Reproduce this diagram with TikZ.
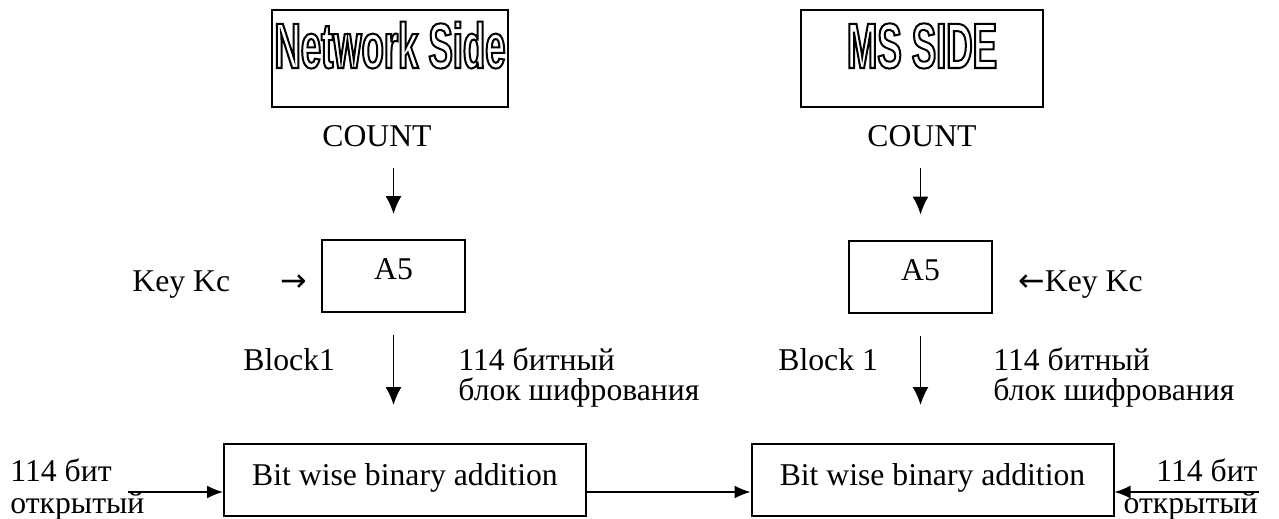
\documentclass[tikz,border=0pt]{standalone}
\usepackage{fontspec}
\setmainfont{Liberation Serif}
\newfontfamily\sideFont[FakeStretch=0.57]{Liberation Sans}
\newfontfamily\symFont{DejaVu Sans}
\usetikzlibrary{arrows.meta, calc, positioning}
\tikzset{
    sideBox/.style={rectangle, draw, line width=1pt, minimum height=48.5pt, inner sep=0pt},
    sideText/.style={anchor=base, inner sep=0pt, font=\sideFont\bfseries\fontsize{32}{36}\selectfont},
    algBox/.style={rectangle, draw, line width=1pt, minimum width=71.5pt, minimum height=36pt, inner sep=0pt, text depth=6.5pt},
    addBox/.style={rectangle, draw, line width=1pt, minimum width=181pt, minimum height=36pt, inner sep=0pt, text depth=5.8pt},
    txt/.style={inner sep=0pt},
    flowEdge/.style={-{Latex[length=8pt, width=6.5pt]}, line width=0.75pt},
    downEdge/.style={flowEdge, -{Latex[length=9pt, width=8pt]}},
}
% hollow (outlined) letters for the two titles
\newcommand{\outl}[1]{\special{pdf:literal direct 1 Tr 1 w}#1\special{pdf:literal direct 0 Tr}}

\begin{document}
\begin{tikzpicture}[x=0.5pt, y=-0.5pt, font=\fontsize{15.85}{15}\selectfont]
    \useasboundingbox (0,0) rectangle (1279,519);

    % network side
    \node[sideBox, minimum width=118pt] (netBox) at (390,58.5) {};
    \node[sideText] (netTitle) at (390,68) {\outl{Network Side}};
    \node[txt, anchor=base] (countL) at (377,147) {COUNT};
    \node[algBox] (a5L) at (393.5,276) {A5};
    \node[txt, anchor=base west] (keyL) at (132,291) {Key Kc\hspace{25pt}{\symFont →}};
    \node[txt, anchor=base west] (blockL) at (243,370) {Block1};
    \node[txt, anchor=base west, align=left] (cipherL) at (458,400) {114 битный\\блок шифрования};
    \node[addBox] (sumL) at (405,480) {Bit wise binary addition};
    \node[txt, anchor=base west, align=left] (plainL) at (10,513) {114 бит\\[1pt]открытый};
    \coordinate (inL) at (128,492);

    % ms side
    \node[sideBox, minimum width=121pt] (msBox) at (922,58.5) {};
    \node[sideText] (msTitle) at (922,68) {\outl{MS SIDE}};
    \node[txt, anchor=base] (countR) at (922,147) {COUNT};
    \node[algBox] (a5R) at (920.5,276.5) {A5};
    \node[txt, anchor=base west] (keyR) at (1018,291) {{\symFont ←}Key Kc};
    \node[txt, anchor=base west] (blockR) at (778,370) {Block 1};
    \node[txt, anchor=base west, align=left] (cipherR) at (993,400) {114 битный\\блок шифрования};
    \node[addBox] (sumR) at (932.5,480) {Bit wise binary addition};
    \node[txt, anchor=base east, align=right] (plainR) at (1258,513) {114 бит\\[1pt]открытый};
    \coordinate (inR) at (1259,492);

    \draw[downEdge, shorten <=10pt, shorten >=12.5pt] (a5L.north |- countL.south) -- (a5L.north);
    \draw[downEdge, shorten <=11pt, shorten >=19pt] (a5L.south) -- (a5L.south |- sumL.north);
    \draw[downEdge, shorten <=10pt, shorten >=12.5pt] (a5R.north |- countR.south) -- (a5R.north);
    \draw[downEdge, shorten <=11pt, shorten >=19pt] (a5R.south) -- (a5R.south |- sumR.north);

    \draw[flowEdge] (inL) -- (inL -| sumL.west);
    \draw[flowEdge] (sumL.east |- inL) -- (sumR.west |- inL);
    \draw[flowEdge] (inR) -- (inR -| sumR.east);

\end{tikzpicture}
\end{document}
